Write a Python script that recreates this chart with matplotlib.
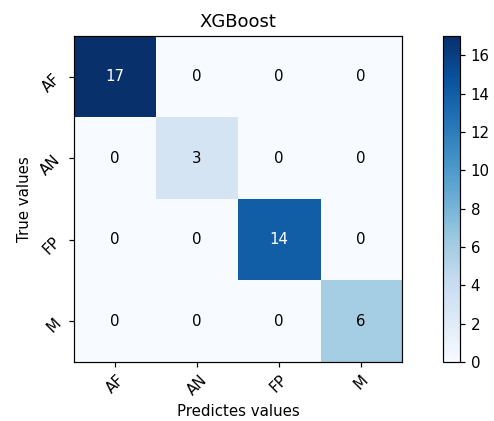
import numpy as np
import matplotlib
matplotlib.use("Agg")
import matplotlib.pyplot as plt

# Confusion matrix for the XGBoost classifier
classes = ["AF", "AN", "FP", "M"]
cm = np.array([[17, 0, 0, 0],
               [0, 3, 0, 0],
               [0, 0, 14, 0],
               [0, 0, 0, 6]])

fig = plt.figure(figsize=(494 / 108, 421 / 108), dpi=108)
ax = fig.add_axes([0.1498, 0.1401, 0.664, 0.7743])
cax = fig.add_axes([0.8968, 0.1401, 0.0344, 0.7743])

im = ax.imshow(cm, interpolation="nearest", cmap=plt.cm.Blues, aspect="auto")
cb = fig.colorbar(im, cax=cax)
cb.set_ticks(range(0, 17, 2))
ax.set_title("XGBoost")

ticks = np.arange(len(classes))
ax.set_xticks(ticks)
ax.set_xticklabels(classes, rotation=45)
ax.set_yticks(ticks)
ax.set_yticklabels(classes, rotation=45)

thresh = cm.max() / 2.0
for i in range(cm.shape[0]):
    for j in range(cm.shape[1]):
        ax.text(j, i, format(cm[i, j], "d"),
                ha="center", va="center",
                color="white" if cm[i, j] > thresh else "black")

ax.set_ylabel("True values")
ax.set_xlabel("Predictes values")

fig.savefig("out.png", dpi=108)
